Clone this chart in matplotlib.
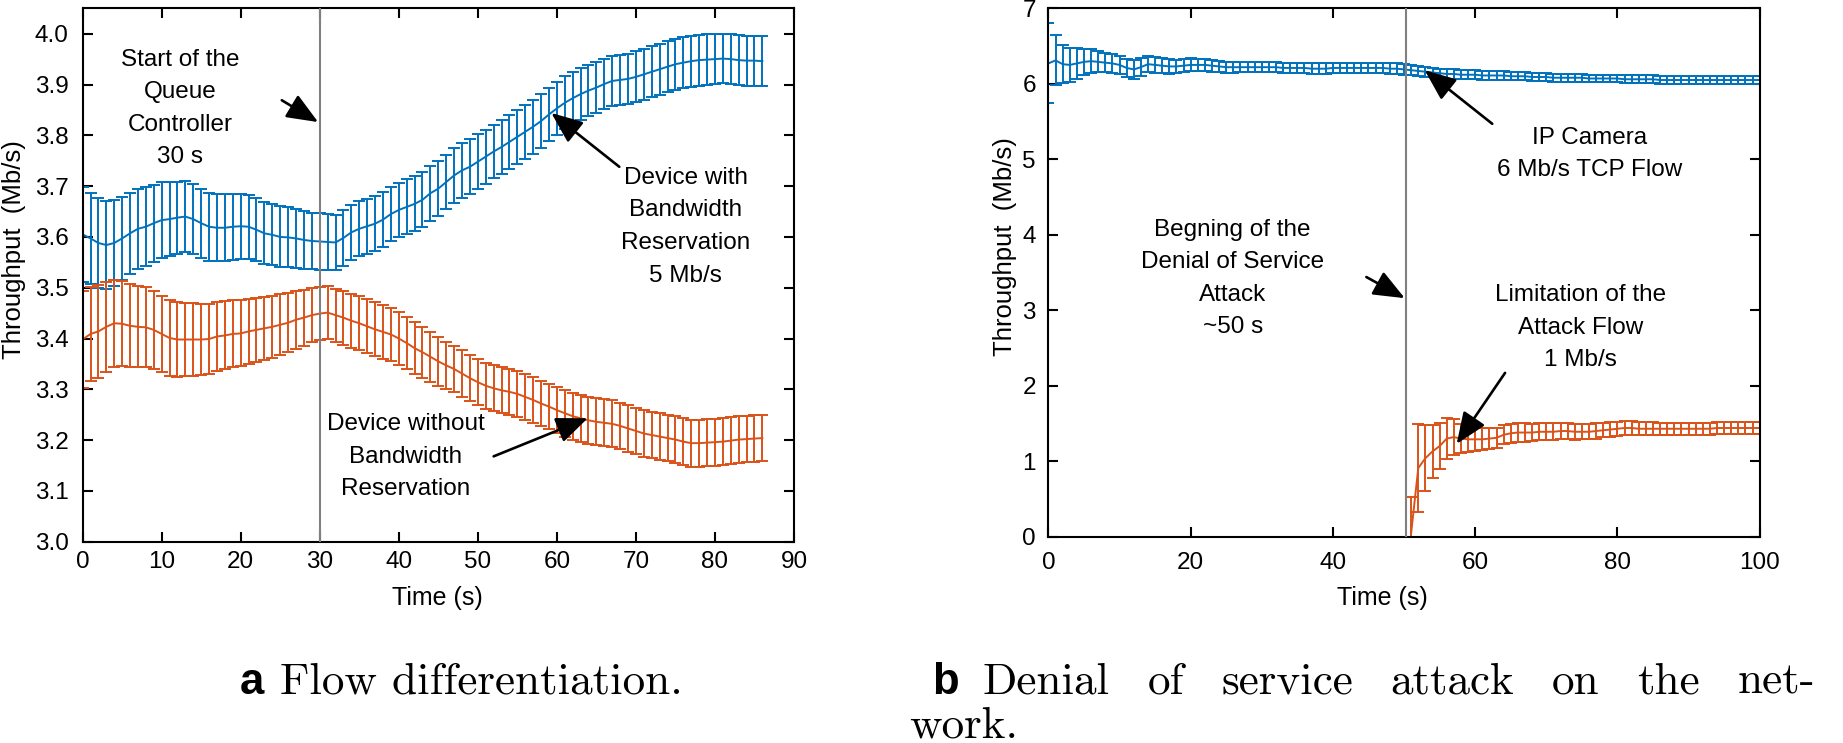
import numpy as np
import matplotlib
matplotlib.use('Agg')
import matplotlib.pyplot as plt

plt.rcParams['font.family'] = ['Liberation Sans', 'DejaVu Sans']

BLUE = '#0072BD'
ORANGE = '#D95319'

# ---------------- Panel a: flow differentiation ----------------
a_time = list(range(0, 87))
a_with_mean = [3.605, 3.597, 3.588, 3.584, 3.588, 3.597, 3.607, 3.616, 3.620, 3.627,
               3.633, 3.635, 3.638, 3.640, 3.635, 3.627, 3.620, 3.618, 3.618, 3.620,
               3.621, 3.620, 3.614, 3.607, 3.604, 3.600, 3.599, 3.597, 3.594, 3.592,
               3.591, 3.590, 3.589, 3.598, 3.609, 3.616, 3.621, 3.626, 3.634, 3.645,
               3.653, 3.659, 3.665, 3.673, 3.686, 3.695, 3.708, 3.721, 3.731, 3.738,
               3.748, 3.758, 3.768, 3.777, 3.787, 3.797, 3.807, 3.817, 3.828, 3.841,
               3.853, 3.864, 3.873, 3.881, 3.888, 3.894, 3.901, 3.907, 3.909, 3.911,
               3.915, 3.920, 3.925, 3.930, 3.935, 3.940, 3.943, 3.946, 3.948, 3.949,
               3.950, 3.951, 3.950, 3.948, 3.947, 3.947, 3.946]
a_with_err = [0.093, 0.090, 0.088, 0.086, 0.084, 0.082, 0.080, 0.079, 0.078, 0.076,
              0.075, 0.073, 0.071, 0.070, 0.069, 0.068, 0.067, 0.066, 0.066, 0.065,
              0.064, 0.063, 0.062, 0.061, 0.060, 0.060, 0.059, 0.058, 0.057, 0.056,
              0.056, 0.055, 0.055, 0.055, 0.054, 0.054, 0.054, 0.054, 0.054, 0.054,
              0.054, 0.054, 0.054, 0.054, 0.054, 0.054, 0.054, 0.054, 0.054, 0.054,
              0.054, 0.053, 0.053, 0.053, 0.053, 0.053, 0.053, 0.053, 0.053, 0.052,
              0.052, 0.052, 0.051, 0.051, 0.050, 0.050, 0.050, 0.050, 0.050, 0.050,
              0.050, 0.050, 0.050, 0.050, 0.050, 0.050, 0.050, 0.050, 0.050, 0.050,
              0.050, 0.049, 0.049, 0.049, 0.049, 0.049, 0.049]
a_without_mean = [3.398, 3.409, 3.414, 3.423, 3.430, 3.429, 3.425, 3.423, 3.422, 3.417,
                  3.409, 3.401, 3.398, 3.398, 3.398, 3.398, 3.399, 3.404, 3.406, 3.409,
                  3.410, 3.414, 3.417, 3.420, 3.423, 3.427, 3.431, 3.437, 3.441, 3.446,
                  3.449, 3.451, 3.446, 3.441, 3.435, 3.430, 3.424, 3.418, 3.413, 3.408,
                  3.400, 3.391, 3.381, 3.373, 3.364, 3.355, 3.347, 3.340, 3.331, 3.322,
                  3.314, 3.307, 3.302, 3.298, 3.295, 3.291, 3.285, 3.279, 3.272, 3.266,
                  3.259, 3.253, 3.247, 3.243, 3.239, 3.236, 3.234, 3.232, 3.228, 3.223,
                  3.218, 3.213, 3.210, 3.207, 3.204, 3.201, 3.197, 3.194, 3.194, 3.195,
                  3.196, 3.197, 3.199, 3.201, 3.202, 3.203, 3.204]
a_without_err = [0.095, 0.093, 0.091, 0.089, 0.086, 0.084, 0.082, 0.080, 0.079, 0.077,
                 0.075, 0.074, 0.073, 0.072, 0.071, 0.070, 0.069, 0.068, 0.067, 0.066,
                 0.065, 0.064, 0.063, 0.062, 0.061, 0.060, 0.058, 0.057, 0.055, 0.053,
                 0.052, 0.052, 0.052, 0.053, 0.053, 0.053, 0.053, 0.053, 0.053, 0.053,
                 0.053, 0.052, 0.051, 0.050, 0.049, 0.048, 0.047, 0.046, 0.046, 0.045,
                 0.045, 0.045, 0.045, 0.045, 0.045, 0.045, 0.045, 0.045, 0.045, 0.045,
                 0.046, 0.046, 0.046, 0.046, 0.046, 0.046, 0.046, 0.046, 0.046, 0.046,
                 0.046, 0.046, 0.046, 0.046, 0.046, 0.046, 0.046, 0.046, 0.046, 0.046,
                 0.046, 0.046, 0.046, 0.046, 0.046, 0.046, 0.046]
a_start = 30
a_xticks = [0, 10, 20, 30, 40, 50, 60, 70, 80, 90]
a_yticks = [3.0, 3.1, 3.2, 3.3, 3.4, 3.5, 3.6, 3.7, 3.8, 3.9, 4.0]

# ---------------- Panel b: denial of service ----------------
b_time = list(range(0, 101))
b_cam_mean = [6.27, 6.31, 6.26, 6.25, 6.27, 6.29, 6.30, 6.29, 6.28, 6.27,
              6.25, 6.21, 6.19, 6.22, 6.26, 6.25, 6.24, 6.23, 6.23, 6.24,
              6.25, 6.25, 6.25, 6.24, 6.23, 6.22, 6.22, 6.22, 6.22, 6.22,
              6.22, 6.22, 6.22, 6.21, 6.21, 6.21, 6.21, 6.20, 6.20, 6.20,
              6.21, 6.21, 6.21, 6.21, 6.21, 6.21, 6.21, 6.21, 6.20, 6.20,
              6.19, 6.18, 6.17, 6.16, 6.15, 6.14, 6.13, 6.13, 6.12, 6.12,
              6.12, 6.11, 6.11, 6.11, 6.11, 6.10, 6.10, 6.10, 6.09, 6.09,
              6.09, 6.08, 6.08, 6.08, 6.08, 6.08, 6.07, 6.07, 6.07, 6.07,
              6.07, 6.06, 6.06, 6.06, 6.06, 6.06, 6.05, 6.05, 6.05, 6.05,
              6.05, 6.05, 6.05, 6.05, 6.05, 6.05, 6.05, 6.05, 6.05, 6.05, 6.05]
b_cam_err = [0.53, 0.33, 0.25, 0.22, 0.20, 0.17, 0.155, 0.14, 0.13, 0.13,
             0.12, 0.12, 0.12, 0.115, 0.11, 0.105, 0.10, 0.095, 0.09, 0.09,
             0.085, 0.08, 0.08, 0.08, 0.075, 0.075, 0.075, 0.07, 0.07, 0.07,
             0.07, 0.07, 0.07, 0.07, 0.07, 0.07, 0.07, 0.07, 0.07, 0.07,
             0.07, 0.07, 0.07, 0.07, 0.07, 0.07, 0.07, 0.07, 0.07, 0.07,
             0.07, 0.065, 0.065, 0.065, 0.065, 0.06, 0.06, 0.06, 0.06, 0.06,
             0.06, 0.06, 0.055, 0.055, 0.055, 0.055, 0.055, 0.055, 0.055, 0.055,
             0.055, 0.05, 0.05, 0.05, 0.05, 0.05, 0.05, 0.05, 0.05, 0.05,
             0.05, 0.05, 0.05, 0.05, 0.05, 0.05, 0.05, 0.05, 0.05, 0.05,
             0.05, 0.05, 0.05, 0.05, 0.05, 0.05, 0.05, 0.05, 0.05, 0.05, 0.05]
b_atk_time = list(range(51, 101))
b_atk_mean = [0.05, 0.91, 1.04, 1.13, 1.20, 1.30, 1.32, 1.30, 1.29, 1.29,
              1.29, 1.30, 1.31, 1.35, 1.37, 1.38, 1.38, 1.38, 1.39, 1.39,
              1.39, 1.40, 1.40, 1.39, 1.39, 1.39, 1.40, 1.41, 1.42, 1.43,
              1.44, 1.44, 1.43, 1.43, 1.43, 1.43, 1.43, 1.43, 1.43, 1.43,
              1.43, 1.43, 1.43, 1.44, 1.44, 1.44, 1.44, 1.44, 1.44, 1.44]
b_atk_err = [0.48, 0.58, 0.44, 0.35, 0.30, 0.27, 0.24, 0.19, 0.17, 0.155,
             0.145, 0.14, 0.13, 0.125, 0.125, 0.12, 0.12, 0.115, 0.11, 0.11,
             0.11, 0.11, 0.105, 0.105, 0.10, 0.10, 0.10, 0.095, 0.095, 0.09,
             0.09, 0.09, 0.085, 0.085, 0.085, 0.08, 0.08, 0.08, 0.08, 0.08,
             0.08, 0.08, 0.08, 0.075, 0.075, 0.075, 0.075, 0.075, 0.075, 0.075]
b_start = 50.3
b_xticks = [0, 20, 40, 60, 80, 100]
b_yticks = [0, 1, 2, 3, 4, 5, 6, 7]

W, H = 1843, 743
fig = plt.figure(figsize=(W / 100, H / 100), dpi=100)

def px_rect(x0, x1, ytop, ybot):
    return [x0 / W, 1 - ybot / H, (x1 - x0) / W, (ybot - ytop) / H]

ax1 = fig.add_axes(px_rect(82.6, 794, 8.3, 541.7))
ax2 = fig.add_axes(px_rect(1048.4, 1759.7, 8.3, 536.7))

LW = 1.4
ebkw = dict(lw=LW, elinewidth=LW, capsize=4.4, capthick=LW)

for ax in (ax1, ax2):
    for s in ax.spines.values():
        s.set_linewidth(1.5)
    ax.tick_params(direction='in', top=True, right=True, length=7, width=1.5,
                   labelsize=17.5)

# panel a
ax1.errorbar(a_time, a_with_mean, yerr=a_with_err, color=BLUE, **ebkw)
ax1.errorbar(a_time, a_without_mean, yerr=a_without_err, color=ORANGE, **ebkw)
ax1.axvline(a_start, color='#808080', lw=1.5, zorder=5)
ax1.set_xlim(0, 90)
ax1.set_ylim(3.0, 4.05)
ax1.set_xticks(a_xticks)
ax1.set_yticks(a_yticks)
ax1.set_yticklabels([f'{v:.1f}' for v in a_yticks])
ax1.tick_params(axis='x', pad=7)
ax1.tick_params(axis='y', pad=10)

# panel b
ax2.errorbar(b_time, b_cam_mean, yerr=b_cam_err, color=BLUE, **ebkw)
ax2.errorbar(b_atk_time, b_atk_mean, yerr=b_atk_err, color=ORANGE, **ebkw)
ax2.axvline(b_start, color='#808080', lw=1.5, zorder=5)
ax2.set_xlim(0, 100)
ax2.set_ylim(0, 7)
ax2.set_xticks(b_xticks)
ax2.set_yticks(b_yticks)
ax2.tick_params(axis='x', pad=11)
ax2.tick_params(axis='y', pad=9)

LAB = 18.5
fig.text(14 / W, 1 - 250 / H, 'Throughput  (Mb/s)', rotation=90, ha='center', va='center', fontsize=LAB)
fig.text(1005 / W, 1 - 247 / H, 'Throughput  (Mb/s)', rotation=90, ha='center', va='center', fontsize=LAB)
fig.text(437 / W, 1 - 598 / H, 'Time (s)', ha='center', va='center', fontsize=18)
fig.text(1382 / W, 1 - 598 / H, 'Time (s)', ha='center', va='center', fontsize=18)

ANN = 17.5
LS = 1.62
arrow = dict(arrowstyle='-|>,head_length=0.8,head_width=0.33', color='black', lw=1.9,
             shrinkA=0, shrinkB=0, mutation_scale=24)

ax1.text(12.3, 3.853, 'Start of the\nQueue\nController\n30 s', ha='center', va='center',
         fontsize=ANN, linespacing=LS)
ax1.annotate('', xy=(29.8, 3.826), xytext=(25.2, 3.869), arrowprops=arrow)
ax1.text(76.3, 3.620, 'Device with\nBandwidth\nReservation\n5 Mb/s', ha='center', va='center',
         fontsize=ANN, linespacing=LS)
ax1.annotate('', xy=(59.3, 3.844), xytext=(67.9, 3.738), arrowprops=arrow)
ax1.text(40.9, 3.167, 'Device without\nBandwidth\nReservation', ha='center', va='center',
         fontsize=ANN, linespacing=LS)
ax1.annotate('', xy=(63.9, 3.243), xytext=(52.0, 3.168), arrowprops=arrow)

ax2.text(76.1, 5.07, 'IP Camera\n6 Mb/s TCP Flow', ha='center', va='center',
         fontsize=ANN, linespacing=LS)
ax2.annotate('', xy=(52.9, 6.18), xytext=(62.4, 5.47), arrowprops=arrow)
ax2.text(25.9, 3.42, 'Begning of the\nDenial of Service\nAttack\n~50 s', ha='center', va='center',
         fontsize=ANN, linespacing=LS)
ax2.annotate('', xy=(50.1, 3.16), xytext=(44.7, 3.44), arrowprops=arrow)
ax2.text(74.8, 2.77, 'Limitation of the\nAttack Flow\n1 Mb/s', ha='center', va='center',
         fontsize=ANN, linespacing=LS)
ax2.annotate('', xy=(57.4, 1.23), xytext=(64.2, 2.17), arrowprops=arrow)

# captions
CAP = 32.5
Y1 = 1 - 694 / H
Y2 = 1 - 737 / H
fig.text(240 / W, Y1, 'a', fontsize=CAP - 1, fontweight='bold', ha='left', va='baseline')
fig.text(280 / W, Y1, 'Flow differentiation.', family='cmr10', fontsize=CAP,
         ha='left', va='baseline')
fig.text(932 / W, Y1, 'b', fontsize=CAP - 1, fontweight='bold', ha='left', va='baseline')

# justified first line of caption b
words = ['Denial', 'of', 'service', 'attack', 'on', 'the', 'net-']
x_left, x_right = 983, 1815
renderer = fig.canvas.get_renderer()
txts = []
widths = []
for w in words:
    t = fig.text(0, Y1, w, family='cmr10', fontsize=CAP, ha='left', va='baseline')
    widths.append(t.get_window_extent(renderer).width)
    txts.append(t)
gap = (x_right - x_left - sum(widths)) / (len(words) - 1)
xc = x_left
for t, wd in zip(txts, widths):
    t.set_x(xc / W)
    xc += wd + gap
fig.text(909 / W, Y2, 'work.', family='cmr10', fontsize=CAP, ha='left', va='baseline')

fig.savefig('out.png', dpi=100)
